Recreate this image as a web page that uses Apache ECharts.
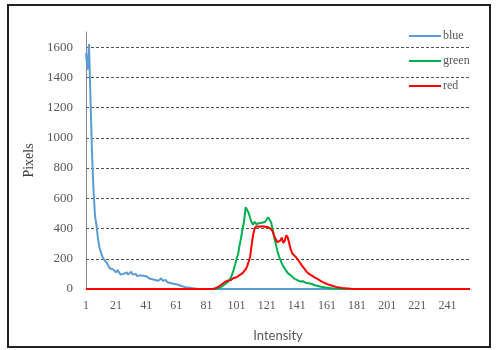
<!DOCTYPE html>
<html>
<head>
<meta charset="utf-8">
<script src="https://cdn.jsdelivr.net/npm/echarts@6/dist/echarts.min.js"></script>
<style>
  html, body { margin: 0; padding: 0; background: #fff; }
  #histogram { width: 499px; height: 350px; }
</style>
</head>
<body>
<div id="histogram"></div>
<script>
// intensity levels 1..256
const intensity = [];
for (let i = 1; i <= 256; i++) intensity.push(String(i));

const blue = [
  1560, 1450, 1620, 1250, 900, 650, 480, 420, 330, 270, 240, 210, 195, 185, 170, 150,
  135, 125, 130, 120, 110, 125, 115, 95, 105, 100, 90, 110, 95, 100, 115, 95,
  90, 100, 85, 95, 90, 80, 88, 75, 85, 78, 70, 80, 65, 72, 60, 68,
  55, 62, 70, 55, 48, 60, 45, 50, 40, 45, 35, 28, 32, 20, 25, 15,
  18, 10, 12, 8, 10, 5, 6, 3, 4, 2, 1, 0, 0, 0, 0, 0,
  0, 0, 0, 0, 0, 0, 0, 0, 0, 0, 0, 0, 0, 0, 0, 0,
  0, 0, 0, 0, 0, 0, 0, 0, 0, 0, 0, 0, 0, 0, 0, 0,
  0, 0, 0, 0, 0, 0, 0, 0, 0, 0, 0, 0, 0, 0, 0, 0,
  0, 0, 0, 0, 0, 0, 0, 0, 0, 0, 0, 0, 0, 0, 0, 0,
  0, 0, 0, 0, 0, 0, 0, 0, 0, 0, 0, 0, 0, 0, 0, 0,
  0, 0, 0, 0, 0, 0, 0, 0, 0, 0, 0, 0, 0, 0, 0, 0,
  0, 0, 0, 0, 0, 0, 0, 0, 0, 0, 0, 0, 0, 0, 0, 0,
  0, 0, 0, 0, 0, 0, 0, 0, 0, 0, 0, 0, 0, 0, 0, 0,
  0, 0, 0, 0, 0, 0, 0, 0, 0, 0, 0, 0, 0, 0, 0, 0,
  0, 0, 0, 0, 0, 0, 0, 0, 0, 0, 0, 0, 0, 0, 0, 0,
  0, 0, 0, 0, 0, 0, 0, 0, 0, 0, 0, 0, 0, 0, 0, 0
];

const green = [
  0, 0, 0, 0, 0, 0, 0, 0, 0, 0, 0, 0, 0, 0, 0, 0,
  0, 0, 0, 0, 0, 0, 0, 0, 0, 0, 0, 0, 0, 0, 0, 0,
  0, 0, 0, 0, 0, 0, 0, 0, 0, 0, 0, 0, 0, 0, 0, 0,
  0, 0, 0, 0, 0, 0, 0, 0, 0, 0, 0, 0, 0, 0, 0, 0,
  0, 0, 0, 0, 0, 0, 0, 0, 0, 0, 0, 0, 0, 0, 0, 0,
  0, 0, 0, 0, 0, 0, 0, 2, 5, 8, 15, 22, 30, 40, 45, 55,
  70, 95, 125, 160, 200, 230, 290, 340, 400, 450, 540, 550, 505, 470, 440, 425,
  445, 430, 440, 435, 445, 438, 450, 445, 460, 475, 470, 440, 390, 340, 300, 255,
  220, 195, 170, 150, 135, 120, 105, 95, 90, 80, 70, 65, 60, 55, 50, 48,
  52, 45, 40, 42, 38, 35, 33, 30, 25, 22, 20, 18, 15, 14, 12, 10,
  9, 8, 6, 5, 4, 3, 3, 2, 1, 1, 0, 0, 0, 0, 0, 0,
  0, 0, 0, 0, 0, 0, 0, 0, 0, 0, 0, 0, 0, 0, 0, 0,
  0, 0, 0, 0, 0, 0, 0, 0, 0, 0, 0, 0, 0, 0, 0, 0,
  0, 0, 0, 0, 0, 0, 0, 0, 0, 0, 0, 0, 0, 0, 0, 0,
  0, 0, 0, 0, 0, 0, 0, 0, 0, 0, 0, 0, 0, 0, 0, 0,
  0, 0, 0, 0, 0, 0, 0, 0, 0, 0, 0, 0, 0, 0, 0, 0
];

const red = [
  0, 0, 0, 0, 0, 0, 0, 0, 0, 0, 0, 0, 0, 0, 0, 0,
  0, 0, 0, 0, 0, 0, 0, 0, 0, 0, 0, 0, 0, 0, 0, 0,
  0, 0, 0, 0, 0, 0, 0, 0, 0, 0, 0, 0, 0, 0, 0, 0,
  0, 0, 0, 0, 0, 0, 0, 0, 0, 0, 0, 0, 0, 0, 0, 0,
  0, 0, 0, 0, 0, 0, 0, 0, 0, 0, 0, 0, 0, 0, 0, 0,
  0, 0, 0, 0, 0, 3, 6, 10, 15, 22, 30, 40, 45, 48, 55, 62,
  58, 70, 73, 80, 78, 88, 92, 95, 105, 115, 130, 150, 180, 215, 290, 360,
  400, 415, 420, 412, 418, 415, 410, 412, 405, 408, 398, 395, 380, 350, 330, 310,
  300, 320, 340, 305, 320, 355, 340, 300, 260, 235, 225, 215, 210, 190, 175, 160,
  150, 135, 120, 110, 100, 92, 88, 80, 75, 72, 65, 58, 52, 48, 42, 38,
  33, 30, 26, 22, 20, 16, 14, 12, 10, 8, 7, 6, 5, 4, 3, 2,
  1, 1, 0, 0, 0, 0, 0, 0, 0, 0, 0, 0, 0, 0, 0, 0,
  0, 0, 0, 0, 0, 0, 0, 0, 0, 0, 0, 0, 0, 0, 0, 0,
  0, 0, 0, 0, 0, 0, 0, 0, 0, 0, 0, 0, 0, 0, 0, 0,
  0, 0, 0, 0, 0, 0, 0, 0, 0, 0, 0, 0, 0, 0, 0, 0,
  0, 0, 0, 0, 0, 0, 0, 0, 0, 0, 0, 0, 0, 0, 0, 0
];

const chart = echarts.init(document.getElementById('histogram'), null, { renderer: 'canvas' });

const serif = '"Liberation Serif", "DejaVu Serif", serif';
const grid = '#555';

let option = {
  animation: false,
  backgroundColor: '#fff',
  graphic: [{
    type: 'rect',
    shape: { x: 8, y: 5, width: 482, height: 342 },
    style: { fill: 'none', stroke: '#222', lineWidth: 2 },
    silent: true
  }],
  legend: {
    orient: 'vertical',
    left: 404,
    top: 24,
    icon: 'rect',
    itemWidth: 32,
    itemHeight: 2,
    itemGap: 11,
    textStyle: { fontFamily: serif, fontSize: 12, color: '#595959', padding: [0, 0, 0, -3], lineHeight: 14 },
    data: ['blue', 'green', 'red']
  },
  grid: { left: 86, right: 29, top: 32, bottom: 61 },
  xAxis: {
    type: 'category',
    data: intensity,
    boundaryGap: false,
    name: 'Intensity',
    nameLocation: 'middle',
    nameGap: 40,
    nameTextStyle: { fontFamily: 'Lato, "Open Sans", sans-serif', fontSize: 13, color: '#595959' },
    axisLine: { lineStyle: { color: '#888', width: 1 } },
    axisTick: { show: false },
    axisLabel: { interval: 19, margin: 11, fontFamily: serif, fontSize: 12, color: '#595959' },
    splitLine: { show: false }
  },
  yAxis: {
    type: 'value',
    min: 0,
    max: 1700,
    interval: 200,
    name: 'Pixels',
    nameLocation: 'middle',
    nameGap: 50,
    nameTextStyle: { fontFamily: serif, fontSize: 14, color: '#404040' },
    axisLine: { show: true, lineStyle: { color: '#888', width: 1 } },
    axisTick: { show: false },
    axisLabel: {
      margin: 13,
      fontFamily: serif,
      fontSize: 13,
      color: '#595959',
      formatter: function (v) { return v > 1600 ? '' : String(v); }
    },
    splitLine: {
      show: true,
      lineStyle: {
        type: [3, 2],
        width: 1,
        color: ['transparent', grid, grid, grid, grid, grid, grid, grid, grid, 'transparent']
      }
    }
  },
  series: [
    { name: 'blue', type: 'line', data: blue, symbol: 'none', color: '#5B9BD5', lineStyle: { width: 2 } },
    { name: 'green', type: 'line', data: green, symbol: 'none', color: '#00B050', lineStyle: { width: 2 } },
    { name: 'red', type: 'line', data: red, symbol: 'none', color: '#FF0000', lineStyle: { width: 2 } }
  ]
};

window.addEventListener('resize', function () {
  chart.resize();
});

option && chart.setOption(option);
</script>
</body>
</html>
